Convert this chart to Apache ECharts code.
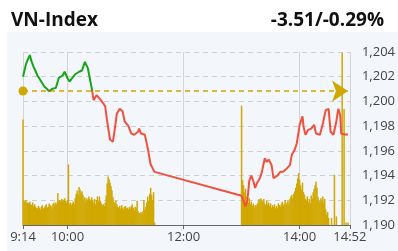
<!DOCTYPE html>
<html>
<head>
<meta charset="utf-8">
<script src="https://cdn.jsdelivr.net/npm/echarts@6/dist/echarts.min.js"></script>
<style>
  html, body { margin: 0; padding: 0; background: #fff; }
  #panel { position: absolute; left: 7px; top: 32px; width: 391px; height: 219px; background: #f3f6fa; }
  #chart { position: absolute; left: 0; top: 0; width: 398px; height: 251px; }
</style>
</head>
<body>
<div id="panel"></div>
<div id="chart"></div>
<script>
const titleText = 'VN-Index'
const changeText = '-3.51/-0.29%'
const refPrice = 1200.84
const xTickLabels = ['09:14', '10:00', '12:00', '14:00', '14:52']

// gia theo thoi gian
const priceTimes = ['09:14', '09:17', '09:19', '09:21', '09:23', '09:25', '09:26', '09:29', '09:33', '09:36',
  '09:39', '09:41', '09:44', '09:48', '09:51', '09:55', '09:57', '10:00', '10:02', '10:05',
  '10:08', '10:12', '10:15', '10:18', '10:21', '10:23', '10:25', '10:27', '10:30', '10:33',
  '10:37', '10:39', '10:41', '10:44', '10:47', '10:49', '10:51', '10:54', '10:57', '10:59',
  '11:03', '11:06', '11:09', '11:13', '11:14', '11:16', '11:20', '11:23', '11:26', '11:30',
  '13:00', '13:01', '13:04', '13:06', '13:08', '13:10', '13:12', '13:14', '13:16', '13:19',
  '13:21', '13:24', '13:26', '13:28', '13:31', '13:33', '13:37', '13:40', '13:43', '13:47',
  '13:50', '13:52', '13:55', '13:57', '13:59', '14:00', '14:03', '14:04', '14:06', '14:09',
  '14:12', '14:15', '14:17', '14:21', '14:24', '14:27', '14:30', '14:32', '14:35', '14:38',
  '14:40', '14:42', '14:43', '14:46', '14:50']
const prices = [1202.0, 1203.0, 1203.4, 1203.75, 1203.2, 1202.8, 1202.9, 1202.1, 1201.6, 1201.2,
  1201.0, 1200.82, 1201.0, 1201.1, 1201.9, 1202.1, 1202.4, 1201.9, 1201.6, 1201.9,
  1202.2, 1202.4, 1202.5, 1203.2, 1202.7, 1201.9, 1201.1, 1200.1, 1200.5, 1200.25,
  1199.85, 1199.6, 1198.4, 1196.9, 1196.75, 1197.8, 1199.0, 1199.4, 1199.2, 1198.4,
  1198.0, 1197.4, 1197.3, 1197.55, 1197.8, 1197.4, 1197.3, 1196.2, 1194.9, 1194.3,
  1192.37, 1192.3, 1191.5, 1192.0, 1193.6, 1194.0, 1193.6, 1193.0, 1193.4, 1193.8,
  1194.3, 1195.4, 1195.1, 1195.3, 1194.85, 1193.8, 1194.0, 1194.3, 1194.3, 1194.6,
  1194.85, 1195.7, 1196.1, 1196.6, 1197.55, 1198.1, 1198.8, 1198.0, 1197.3, 1197.7,
  1197.8, 1198.1, 1197.4, 1197.3, 1198.2, 1199.3, 1199.4, 1197.55, 1197.3, 1198.4,
  1199.4, 1198.9, 1197.4, 1197.33, 1197.33]

// khoi luong moi phut, phien sang tu 09:15
const amVolStart = '09:15'
const amVols = [2.8, 2.7, 2.9, 2.6,
  2.6, 2.5, 2.7, 2.4, 2.3, 2.6, 2.2, 2.4,
  2.1, 2.0, 1.9, 2.2, 2.0, 1.8, 2.1, 2.3, 1.9, 2.0,
  2.2, 2.4, 2.0, 2.1, 2.5, 2.3, 2.2, 1.9, 2.4, 2.6, 2.3,
  2.6, 2.4, 3.7, 2.8,
  2.9, 2.7, 3.0, 2.8, 2.9, 3.1, 2.8,
  2.6, 2.9, 7.0,
  2.4, 2.6, 2.3, 2.5, 2.7, 2.4,
  3.1, 3.6, 4.0, 3.5, 4.4,
  4.1, 3.7, 3.9, 3.5,
  3.0, 3.2, 2.8, 3.1, 2.9, 3.3, 3.0, 2.8, 3.2, 2.9,
  2.6, 3.0, 2.4, 2.9, 3.3, 2.7,
  3.3, 2.8, 2.5, 2.3,
  2.4, 2.2, 2.6, 3.4, 4.8,
  5.6, 5.3, 4.9, 4.5, 4.0,
  3.2, 2.7, 2.5, 2.8, 2.4,
  2.1, 2.0, 2.2, 1.9, 2.3, 2.0, 1.8, 2.1, 2.2, 1.9,
  2.0, 1.8, 2.1, 1.9, 2.2, 2.4, 2.0, 1.7, 2.1, 2.0,
  2.8, 1.6, 1.4,
  1.4, 1.5, 1.3, 1.6,
  2.9, 1.8, 2.1,
  2.6, 3.3, 2.8, 3.6, 4.3,
  3.5, 2.9, 3.8, 0.3]

// phien chieu tu 13:00
const pmVolStart = '13:00'
const pmVols = [13.8,
  5.2, 4.6, 3.8, 4.2, 3.3,
  3.0, 2.6, 3.1, 2.4, 2.7,
  2.2, 2.5, 2.0, 2.3, 2.1, 2.4, 2.6,
  3.0, 2.8, 3.1, 2.9, 2.7, 3.0,
  2.5, 2.3, 2.8, 2.4, 2.6, 2.2, 2.5,
  2.0, 2.3, 2.1, 2.4, 1.9, 2.2, 2.0, 2.5, 2.3, 2.1,
  2.4, 2.7, 2.2, 2.5, 2.9, 2.3, 2.6, 2.8, 2.4, 3.0,
  3.3, 3.5, 3.1, 3.6, 3.9,
  4.3, 4.8, 5.4, 6.0, 5.2,
  4.6, 4.1, 4.9, 3.8, 3.5,
  3.0, 2.8, 3.3, 2.6, 3.0, 2.5, 3.4, 3.1,
  3.8, 4.2, 4.6, 5.0, 4.3,
  3.2, 2.9, 2.7, 3.1, 2.8, 3.3, 2.6, 3.0,
  1.8, 1.2, 1.5, 0.8]

// ATO, ATC va cac lenh le
const extraVolTimes = ['09:14', '14:33', '14:36', '14:38', '14:44', '14:46', '14:48', '14:50']
const extraVols = [12.2, 0.8, 5.8, 1.0, 19.9, 13.4, 0.3, 0.3]

function toMin(t) {
  const [h, m] = t.split(':').map(Number)
  return h * 60 + m
}
function fmtMin(v) {
  const h = Math.floor(v / 60)
  const m = v % 60
  return h + ':' + (m < 10 ? '0' : '') + m
}

const priceData = priceTimes.map((t, i) => [toMin(t), prices[i]])
const volData = []
amVols.forEach((v, i) => volData.push([toMin(amVolStart) + i, v]))
pmVols.forEach((v, i) => volData.push([toMin(pmVolStart) + i, v]))
extraVolTimes.forEach((t, i) => volData.push([toMin(t), extraVols[i]]))

const tickMins = xTickLabels.map(toMin)
const green = '#18a418'
const red = '#f0513f'
const gold = '#d0a800'

const myChart = echarts.init(document.getElementById('chart'))
const option = {
  animation: false,
  title: [
    {
      text: titleText,
      left: 6,
      top: 6,
      textStyle: { fontFamily: 'Open Sans', fontWeight: 'bold', fontSize: 19, color: '#111' }
    },
    {
      text: changeText,
      right: 9,
      top: 6,
      textStyle: { fontFamily: 'Open Sans', fontWeight: 'bold', fontSize: 19, color: '#111' }
    }
  ],
  grid: { left: 23, right: 42, top: 52, bottom: 26 },
  xAxis: {
    type: 'value',
    min: tickMins[0],
    max: tickMins[tickMins.length - 1],
    axisLine: { lineStyle: { color: '#666' } },
    axisTick: { show: true, length: 4, customValues: tickMins, lineStyle: { color: '#666' } },
    axisLabel: {
      customValues: tickMins,
      formatter: v => fmtMin(v),
      color: '#444',
      fontFamily: 'Open Sans',
      fontSize: 13,
      margin: 6
    },
    splitLine: { show: true, lineStyle: { color: '#d4d4d4', type: 'solid' } }
  },
  yAxis: [
    {
      type: 'value',
      position: 'right',
      min: 1190,
      max: 1204,
      interval: 2,
      axisLine: { show: false },
      axisTick: { show: false },
      axisLabel: {
        formatter: v => v.toLocaleString('en-US'),
        color: '#444',
        fontFamily: 'Open Sans',
        fontSize: 13,
        margin: 12
      },
      splitLine: { lineStyle: { color: '#cfcfcf', type: [5, 4] } }
    },
    {
      type: 'value',
      min: 0,
      max: 20,
      show: false,
      splitLine: { show: false }
    }
  ],
  series: [
    {
      type: 'line',
      data: priceData,
      showSymbol: false,
      z: 5,
      lineStyle: { width: 2, color: red },
      markLine: {
        silent: true,
        animation: false,
        label: { show: false },
        lineStyle: { color: gold, type: [5, 4], width: 1.5 },
        data: [[
          { coord: [tickMins[0], refPrice], symbol: 'circle', symbolSize: 9 },
          { coord: [890, refPrice], symbol: 'arrow', symbolSize: 16 }
        ]]
      }
    },
    {
      type: 'bar',
      yAxisIndex: 1,
      data: volData,
      barWidth: 1.5,
      z: 2,
      itemStyle: { color: gold }
    }
  ]
}
myChart.setOption(option)

// tren gia tham chieu: xanh, duoi: do
const refY = myChart.convertToPixel({ yAxisIndex: 0 }, refPrice)
const stop = refY / 251
myChart.setOption({
  series: [{
    lineStyle: {
      color: {
        type: 'linear', x: 0, y: 0, x2: 0, y2: 251, global: true,
        colorStops: [
          { offset: 0, color: green },
          { offset: stop, color: green },
          { offset: stop, color: red },
          { offset: 1, color: red }
        ]
      }
    }
  }]
})
</script>
</body>
</html>
